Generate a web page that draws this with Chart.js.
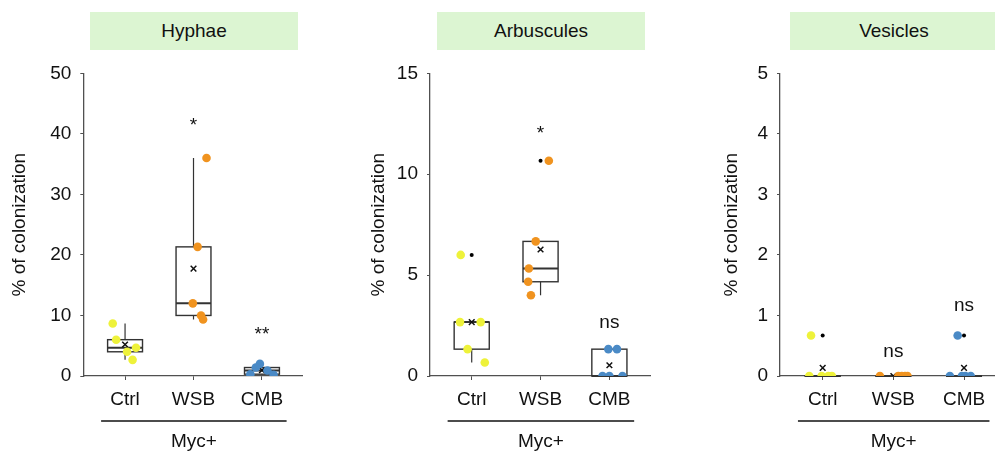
<!DOCTYPE html>
<html>
<head>
<meta charset="utf-8">
<script src="https://cdn.jsdelivr.net/npm/chart.js@4.4.1/dist/chart.umd.min.js"></script>
<style>
  html, body { margin: 0; padding: 0; background: #fff; }
  body { width: 995px; height: 455px; overflow: hidden; position: relative; font-family: "Liberation Sans", Arial, sans-serif; }
  canvas { position: absolute; top: 0; }
  .head { position: absolute; top: 12px; height: 38px; line-height: 38px; width: 208px;
          background: #dcf5d2; color: #111; font-size: 19px; text-align: center; }
</style>
</head>
<body>
<div class="head" style="left:90px">Hyphae</div>
<div class="head" style="left:437px">Arbuscules</div>
<div class="head" style="left:790px">Vesicles</div>
<canvas id="hyphae" width="330" height="455" style="left:0"></canvas>
<canvas id="arbuscules" width="335" height="455" style="left:330px"></canvas>
<canvas id="vesicles" width="355" height="455" style="left:665px"></canvas>
<script>
// Groups and their dot colours
const categories = ['Ctrl', 'WSB', 'CMB'];
const groupColors = ['#eef23a', '#f0931f', '#4a8ac6'];
const groupLabel = 'Myc+';

// Hyphae (% of colonization), one array per group
const hyphaeValues = [[8.67, 6, 4, 4.67, 2.67], [36, 21.33, 12, 10, 9.33], [2, 1.4, 0.9, 0.3, 0.2]];
const hyphaeJitter = [[-0.18, -0.13, 0.03, 0.16, 0.11], [0.19, 0.06, -0.01, 0.11, 0.14], [-0.03, -0.09, 0.08, -0.17, 0.17]];
const hyphaeTicks = [0, 10, 20, 30, 40, 50];
const hyphaeMarks = ['', '*', '**'];
const hyphaeMarkAt = [null, 40.4, 5.9];

// Arbuscules
const arbValues = [[6, 2.67, 2.67, 1.33, 0.67], [10.67, 6.67, 5.33, 4.67, 4], [1.33, 1.33, 0, 0, 0]];
const arbJitter = [[-0.16, -0.17, 0.13, -0.06, 0.19], [0.12, -0.07, -0.17, -0.18, -0.14], [-0.015, 0.11, -0.1, 0, 0.19]];
const arbTicks = [0, 5, 10, 15];
const arbMarks = ['', '*', 'ns'];
const arbMarkAt = [null, 11.73, 2.39];

// Vesicles
const vesValues = [[0.67, 0, 0, 0, 0], [0, 0, 0, 0, 0], [0.67, 0, 0, 0, 0]];
const vesJitter = [[-0.165, -0.19, -0.015, 0.08, 0.13], [-0.19, 0.07, 0.12, 0.165, 0.2], [-0.09, -0.2, -0.03, 0.02, 0.095]];
const vesTicks = [0, 1, 2, 3, 4, 5];
const vesMarks = ['', 'ns', 'ns'];
const vesMarkAt = [null, 0.32, 1.07];

const FONT = '"Liberation Sans", Arial, sans-serif';
const AXIS = '#505050';
const INK = '#111';

// Excel-style box stats (inclusive quartiles, 1.5 IQR whiskers)
function quart(sorted, p) {
    const pos = (sorted.length - 1) * p;
    const lo = Math.floor(pos), hi = Math.ceil(pos);
    return sorted[lo] + (sorted[hi] - sorted[lo]) * (pos - lo);
}
function boxStats(vals) {
    const s = [...vals].sort((a, b) => a - b);
    const q1 = quart(s, 0.25), med = quart(s, 0.5), q3 = quart(s, 0.75);
    const iqr = q3 - q1;
    const inside = s.filter(v => v >= q1 - 1.5 * iqr && v <= q3 + 1.5 * iqr);
    return {
        q1, med, q3,
        lo: inside[0], hi: inside[inside.length - 1],
        outliers: s.filter(v => v < q1 - 1.5 * iqr || v > q3 + 1.5 * iqr),
        mean: vals.reduce((a, b) => a + b, 0) / vals.length
    };
}

function boxPlugin(stats, marks, markAt) {
    return {
        id: 'boxes',
        beforeDatasetsDraw(chart) {
            const { ctx, scales: { x, y } } = chart;
            ctx.save();
            ctx.strokeStyle = '#333';
            stats.forEach((s, i) => {
                const l = x.getPixelForValue(i - 0.255), r = x.getPixelForValue(i + 0.255);
                const c = x.getPixelForValue(i);
                // whiskers
                ctx.lineWidth = 1.2;
                ctx.beginPath();
                ctx.moveTo(c, y.getPixelForValue(s.q3)); ctx.lineTo(c, y.getPixelForValue(s.hi));
                ctx.moveTo(c, y.getPixelForValue(s.q1)); ctx.lineTo(c, y.getPixelForValue(s.lo));
                ctx.stroke();
                // box
                ctx.lineWidth = 1.4;
                const top = y.getPixelForValue(s.q3), bot = y.getPixelForValue(s.q1);
                ctx.strokeRect(l, top, r - l, bot - top);
                // median
                ctx.lineWidth = 2;
                ctx.beginPath();
                ctx.moveTo(l, y.getPixelForValue(s.med)); ctx.lineTo(r, y.getPixelForValue(s.med));
                ctx.stroke();
            });
            ctx.restore();
        },
        afterDraw(chart) {
            const { ctx, scales: { x, y }, chartArea } = chart;
            ctx.save();
            ctx.fillStyle = INK;
            ctx.textAlign = 'center';
            ctx.textBaseline = 'alphabetic';
            ctx.font = '19px ' + FONT;
            marks.forEach((m, i) => {
                if (!m) return;
                ctx.fillText(m, x.getPixelForValue(i), y.getPixelForValue(markAt[i]));
            });
            // group bracket under the category labels
            const l = x.getPixelForValue(-0.35), r = x.getPixelForValue(2.36);
            const ly = chartArea.bottom + 45;
            ctx.strokeStyle = INK;
            ctx.lineWidth = 1.5;
            ctx.beginPath();
            ctx.moveTo(l, ly); ctx.lineTo(r, ly);
            ctx.stroke();
            ctx.textBaseline = 'middle';
            ctx.fillText(groupLabel, (l + r) / 2, chartArea.bottom + 66);
            ctx.restore();
        }
    };
}

function makePanel(id, values, jitter, ticks, marks, markAt, geo) {
    const stats = values.map(boxStats);
    const datasets = values.map((vals, i) => ({
        data: vals.map((v, j) => ({ x: i + jitter[i][j], y: v })),
        backgroundColor: groupColors[i],
        borderWidth: 0,
        pointRadius: 4.3
    }));
    datasets.push({
        data: stats.map((s, i) => ({ x: i, y: s.mean })),
        pointStyle: 'crossRot',
        pointRadius: 4,
        borderColor: '#111',
        borderWidth: 1.5
    });
    datasets.push({
        data: stats.flatMap((s, i) => s.outliers.map(v => ({ x: i, y: v }))),
        backgroundColor: '#000',
        borderWidth: 0,
        pointRadius: 2
    });

    new Chart(document.getElementById(id), {
        type: 'scatter',
        data: { datasets },
        options: {
            responsive: false,
            animation: false,
            events: [],
            layout: { padding: { top: 73.3, right: geo.right, bottom: 0, left: 0 } },
            plugins: { legend: { display: false }, tooltip: { enabled: false } },
            scales: {
                x: {
                    type: 'linear',
                    min: geo.xmin,
                    max: geo.xmax,
                    afterFit: s => { s.height = 79; },
                    afterBuildTicks: s => { s.ticks = categories.map((c, i) => ({ value: i })); },
                    ticks: {
                        callback: v => categories[v],
                        color: INK,
                        padding: 8,
                        font: { family: FONT, size: 19, lineHeight: 1.2 },
                        maxRotation: 0,
                        autoSkip: false
                    },
                    grid: { drawOnChartArea: false, tickLength: 4, color: AXIS },
                    border: { color: AXIS, width: 1.3 }
                },
                y: {
                    min: ticks[0],
                    max: ticks[ticks.length - 1],
                    afterFit: s => { s.width = geo.axisX; },
                    afterBuildTicks: s => { s.ticks = ticks.map(v => ({ value: v })); },
                    ticks: {
                        color: INK,
                        padding: 9,
                        font: { family: FONT, size: 19, lineHeight: 1.2 }
                    },
                    grid: { drawOnChartArea: false, tickLength: 3, color: AXIS },
                    border: { color: AXIS, width: 1.3 },
                    title: {
                        display: true,
                        text: '% of colonization',
                        color: INK,
                        font: { family: FONT, size: 19, lineHeight: 1.2 },
                        padding: { top: geo.titlePad, bottom: 0 }
                    }
                }
            }
        },
        plugins: [boxPlugin(stats, marks, markAt)]
    });
}

makePanel('hyphae', hyphaeValues, hyphaeJitter, hyphaeTicks, hyphaeMarks, hyphaeMarkAt,
    { axisX: 83.3, right: 28, xmin: -0.61, xmax: 2.585, titlePad: 8.6 });
makePanel('arbuscules', arbValues, arbJitter, arbTicks, arbMarks, arbMarkAt,
    { axisX: 100, right: 15, xmin: -0.606, xmax: 2.59, titlePad: 36.9 });
makePanel('vesicles', vesValues, vesJitter, vesTicks, vesMarks, vesMarkAt,
    { axisX: 115, right: 14, xmin: -0.604, xmax: 2.594, titlePad: 55.3 });
</script>
</body>
</html>
